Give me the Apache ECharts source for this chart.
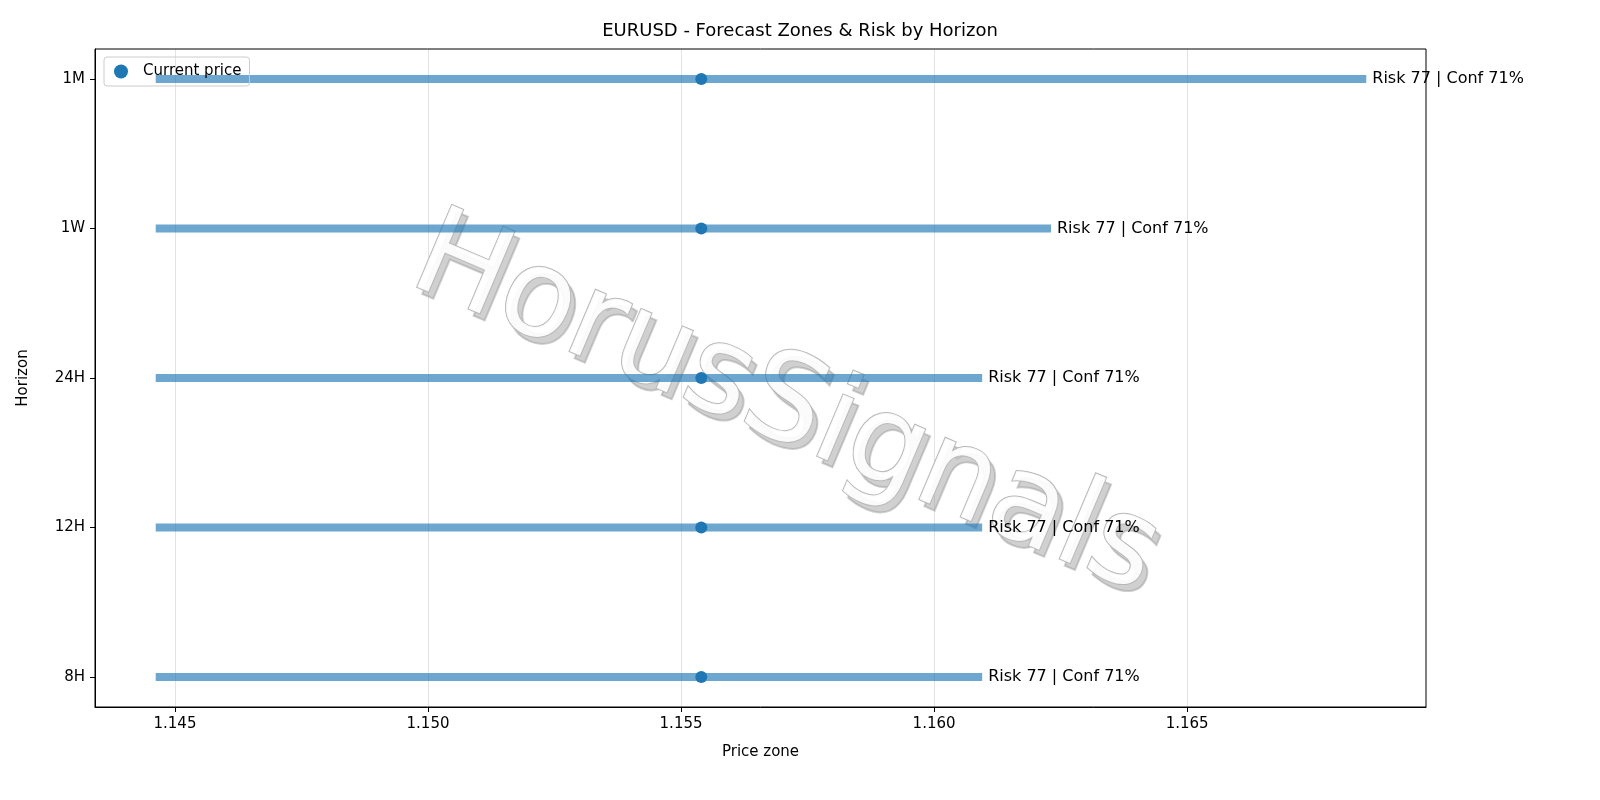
<!DOCTYPE html>
<html>
<head>
<meta charset="UTF-8">
<script src="https://cdn.jsdelivr.net/npm/echarts@6/dist/echarts.min.js"></script>
<style>html,body{margin:0;background:#fff}#chart{width:1600px;height:800px}</style>
</head>
<body>
<div id="chart"></div>
<script>
var horizons = ['8H', '12H', '24H', '1W', '1M'];
var zoneLow = [1.14462, 1.14462, 1.14462, 1.14462, 1.14462];
var zoneHigh = [1.16095, 1.16095, 1.16095, 1.16231, 1.16854];
var currentPrice = [1.1554, 1.1554, 1.1554, 1.1554, 1.1554];
var riskLabels = ['Risk 77 | Conf 71%', 'Risk 77 | Conf 71%', 'Risk 77 | Conf 71%', 'Risk 77 | Conf 71%', 'Risk 77 | Conf 71%'];
var xTicks = [1.145, 1.150, 1.155, 1.160, 1.165];
var yTicks = [0, 1, 2, 3, 4];

var font = 'DejaVu Sans';
var zones = horizons.map(function (h, i) { return [zoneLow[i], zoneHigh[i], i, riskLabels[i]]; });
var points = horizons.map(function (h, i) { return [currentPrice[i], i]; });

function mark(dx, dy, fill, stroke) {
    return {type: 'text', x: 785 + dx, y: 408 + dy, rotation: -0.4, z: 1,
        style: {text: 'HorusSignals', fontSize: 122, fontFamily: font, align: 'center', verticalAlign: 'middle',
            fill: fill, stroke: stroke, lineWidth: 2}};
}

var chart = echarts.init(document.getElementById('chart'));
chart.setOption({
    animation: false,
    textStyle: {fontFamily: font},
    title: {text: 'EURUSD - Forecast Zones & Risk by Horizon', left: 'center', top: 17,
        textStyle: {fontFamily: font, fontSize: 18, fontWeight: 'normal', color: '#000'}},
    grid: {left: 95, right: 174, top: 49, bottom: 93},
    legend: {left: 104, top: 57, itemWidth: 14, itemHeight: 14, borderColor: '#ccc', borderWidth: 1,
        borderRadius: 3, padding: [7, 8, 7, 10], itemGap: 10, textStyle: {fontSize: 15, color: '#000', padding: [0, 0, 0, 10]},
        data: [{name: 'Current price', icon: 'circle'}]},
    xAxis: {type: 'value', min: 1.14342, max: 1.16972, name: 'Price zone', nameLocation: 'middle', nameGap: 38,
        nameTextStyle: {fontSize: 15, color: '#000'},
        axisLine: {show: true, onZero: false, lineStyle: {color: '#000'}},
        axisTick: {show: true, customValues: xTicks, length: 5, lineStyle: {color: '#000'}},
        axisLabel: {customValues: xTicks, fontSize: 15, color: '#000', margin: 10, formatter: function (v) { return v.toFixed(3); }},
        splitLine: {show: true, lineStyle: {color: '#e3e3e3'}}},
    yAxis: {type: 'value', min: -0.2, max: 4.2, name: 'Horizon', nameLocation: 'middle', nameGap: 64,
        nameTextStyle: {fontSize: 15, color: '#000'},
        axisLine: {show: true, onZero: false, lineStyle: {color: '#000'}},
        axisTick: {show: true, customValues: yTicks, length: 5, lineStyle: {color: '#000'}},
        axisLabel: {customValues: yTicks, fontSize: 15, color: '#000', margin: 10, formatter: function (v) { return horizons[Math.round(v)]; }},
        splitLine: {show: false}},
    graphic: [
        {type: 'rect', shape: {x: 95, y: 49, width: 1331, height: 658}, style: {fill: 'none', stroke: '#000', lineWidth: 1}, z: 100},
        mark(5, 7, 'rgba(150,150,150,0.45)', 'rgba(150,150,150,0.45)'),
        mark(0, 0, 'rgba(255,255,255,0.92)', '#b8b8b8')
    ],
    series: [
        {type: 'custom', name: 'zones', data: zones, z: 2,
            renderItem: function (params, api) {
                var a = api.coord([api.value(0), api.value(2)]);
                var b = api.coord([api.value(1), api.value(2)]);
                return {type: 'group', children: [
                    {type: 'line', shape: {x1: a[0], y1: a[1], x2: b[0], y2: b[1]},
                        style: {stroke: 'rgba(31,119,180,0.65)', lineWidth: 8}},
                    {type: 'text', x: b[0] + 6, y: b[1],
                        style: {text: riskLabels[params.dataIndex], fontSize: 16, fontFamily: font, fill: '#000', verticalAlign: 'middle'}}
                ]};
            }},
        {type: 'scatter', name: 'Current price', data: points, symbolSize: 12, itemStyle: {color: '#1f77b4', opacity: 1}, z: 3}
    ]
});
</script>
</body>
</html>
